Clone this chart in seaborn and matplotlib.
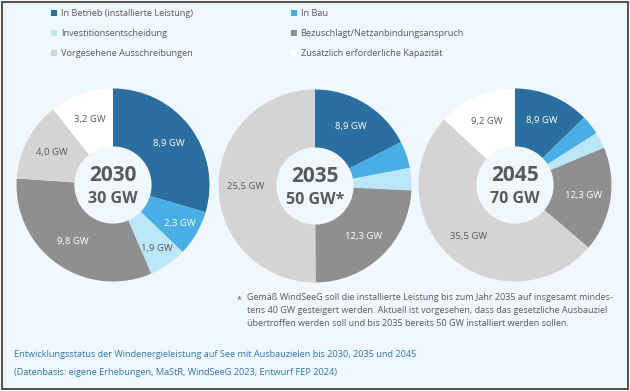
import numpy as np
import matplotlib
matplotlib.use("Agg")
import matplotlib.pyplot as plt
import seaborn as sns
from matplotlib.patches import Patch, Rectangle

# Kategorien und Werte (GW)
categories = [
    "In Betrieb (installierte Leistung)",
    "In Bau",
    "Investitionsentscheidung",
    "Bezuschlagt/Netzanbindungsanspruch",
    "Vorgesehene Ausschreibungen",
    "Zusätzlich erforderliche Kapazität",
]
years = ["2030", "2035", "2045"]
targets = ["30 GW", "50 GW*", "70 GW"]
values_2030 = [8.9, 2.3, 1.9, 9.8, 4.0, 3.2]
values_2035 = [8.9, 2.3, 1.9, 12.3, 25.5, 0.0]
values_2045 = [8.9, 2.3, 1.9, 12.3, 35.5, 9.2]

colors = ["#2a6f9f", "#48aee3", "#bce6fa", "#8f8f8f", "#d4d4d4", "#ffffff"]
label_colors = ["white", "white", "#595959", "white", "#595959", "#595959"]
bg = "#f0f7fe"
gray_txt = "#595959"

sns.set_theme(style="white")
plt.rcParams["font.family"] = ["Open Sans", "DejaVu Sans"]

W, H = 630, 391
fig = plt.figure(figsize=(W / 100, H / 100), dpi=100, facecolor="white")

# Rahmen / Hintergrund
fig.patches.append(Rectangle((2 / W, 2 / H), 626 / W, 387 / H, transform=fig.transFigure,
                             facecolor=bg, edgecolor="#555555", linewidth=1.5, zorder=-10))

centers = [(113, 185), (315, 186), (515, 185)]
r = 96.5


def fmt(v):
    return f"{v:.1f}".replace(".", ",") + " GW"


for (cx, cy), year, target, vals in zip(centers, years, targets, [values_2030, values_2035, values_2045]):
    ax = fig.add_axes([(cx - r) / W, (H - cy - r) / H, 2 * r / W, 2 * r / H])
    ax.set_facecolor("none")
    idx = [i for i, v in enumerate(vals) if v > 0]
    v = [vals[i] for i in idx]
    wedges, _ = ax.pie(v, colors=[colors[i] for i in idx], startangle=90, counterclock=False,
                       radius=1, wedgeprops=dict(width=0.6, edgecolor="none"))
    total = sum(v)
    ang = 90.0
    for i, val in zip(idx, v):
        span = val / total * 360
        mid = np.deg2rad(ang - span / 2)
        ang -= span
        if val / total < 0.05:
            continue
        d = 0.72 if val / total > 0.1 else 0.8
        ax.text(d * np.cos(mid), d * np.sin(mid), fmt(val), ha="center", va="center",
                fontsize=6.8, color=label_colors[i])
    ax.text(0, 0.1, year, ha="center", va="center", fontsize=15, fontweight="bold", color=gray_txt)
    ax.text(0, -0.15, target, ha="center", va="center", fontsize=11.5, fontweight="bold", color=gray_txt)
    ax.set_xlim(-1, 1)
    ax.set_ylim(-1, 1)
    ax.set_aspect("equal")
    ax.axis("off")

# Legende (zeilenweise Reihenfolge)
order = [0, 2, 4, 1, 3, 5]
handles = [Patch(facecolor=colors[i], edgecolor="none", label=categories[i]) for i in order]
fig.legend(handles=handles, loc="upper left", bbox_to_anchor=(43 / W, 1 - 1 / H), ncol=2,
           frameon=False, fontsize=6.6, handlelength=0.65, handleheight=0.65, handletextpad=0.4,
           columnspacing=10.7, labelspacing=1.2, labelcolor=gray_txt)

# Fußnote
fig.text(237 / W, 1 - 300 / H, "*", fontsize=6.5, color=gray_txt, va="center")
foot = ("Gemäß WindSeeG soll die installierte Leistung bis zum Jahr 2035 auf insgesamt mindes-\n"
        "tens 40 GW gesteigert werden. Aktuell ist vorgesehen, dass das gesetzliche Ausbauziel\n"
        "übertroffen werden soll und bis 2035 bereits 50 GW installiert werden sollen.")
fig.text(247 / W, 1 - 293 / H, foot, fontsize=6.5, color=gray_txt, va="top", linespacing=1.55)

# Bildunterschrift
caption = ("Entwicklungsstatus der Windenergieleistung auf See mit Ausbauzielen bis 2030, 2035 und 2045\n"
           "(Datenbasis: eigene Erhebungen, MaStR, WindSeeG 2023, Entwurf FEP 2024)")
fig.text(14 / W, 1 - 350 / H, caption, fontsize=6.6, color="#2f75b5", va="top", linespacing=2.25)

fig.savefig("out.png", dpi=100, facecolor="white")
